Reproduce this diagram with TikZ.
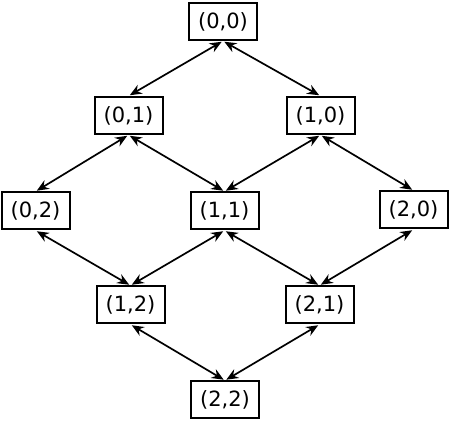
\documentclass[tikz,border=0pt]{standalone}
\usepackage{fontspec}
\setmainfont{DejaVu Sans}
\usetikzlibrary{arrows.meta}
\begin{document}
\begin{tikzpicture}[x=1pt,y=-1pt,
  box/.style={draw,line width=2pt,minimum width=68pt,minimum height=37pt,inner sep=0pt,font=\fontsize{21}{25}\selectfont},
  link/.style={line width=1.7pt,{Stealth[length=12pt,width=10pt,inset=4pt]}-{Stealth[length=12pt,width=10pt,inset=4pt]},shorten <=1.5pt,shorten >=1.5pt}]
\useasboundingbox (0,0) rectangle (451,422);
\node[box] (a00) at (223,21.5) {(0,0)};
\node[box] (a01) at (128.5,115.5) {(0,1)};
\node[box] (a10) at (320.5,115.5) {(1,0)};
\node[box] (a02) at (35.5,211) {(0,2)};
\node[box] (a11) at (224.5,211) {(1,1)};
\node[box] (a20) at (413.5,210) {(2,0)};
\node[box] (a12) at (130.5,305) {(1,2)};
\node[box] (a21) at (319.5,305) {(2,1)};
\node[box] (a22) at (225,400) {(2,2)};
\draw[link] (a00.south) -- (a01.north);
\draw[link] (a00.south) -- (a10.north);
\draw[link] (a01.south) -- (a02.north);
\draw[link] (a01.south) -- (a11.north);
\draw[link] (a10.south) -- (a11.north);
\draw[link] (a10.south) -- (a20.north);
\draw[link] (a02.south) -- (a12.north);
\draw[link] (a11.south) -- (a12.north);
\draw[link] (a11.south) -- (a21.north);
\draw[link] (a20.south) -- (a21.north);
\draw[link] (a12.south) -- (a22.north);
\draw[link] (a21.south) -- (a22.north);
\end{tikzpicture}
\end{document}
